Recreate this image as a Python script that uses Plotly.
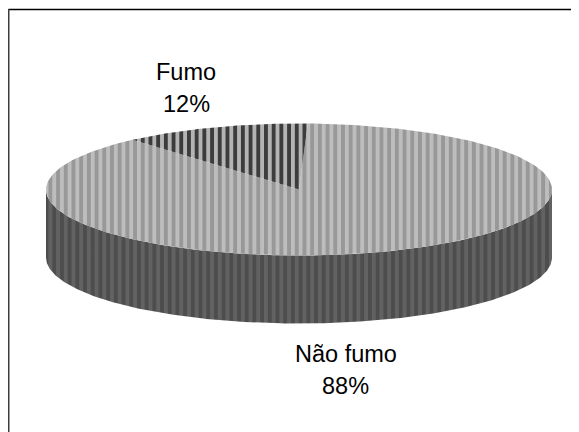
import numpy as np
import plotly.graph_objects as go

categories = ["Não fumo", "Fumo"]
values = [88, 12]
label_centers = [(345.5, 354, 386), (186, 71.5, 103.5)]
top_bg = ["#bdbdbd", "#b4b4b4"]
top_fg = ["#989898", "#3c3c3c"]

PAGE_MARGIN = 8  # the browser's default body margin
W, H = 579, 432
CX, CY, RX, RY, DEPTH = 299.0, 189.5, 253.0, 66.0, 68.0
START = 2.0  # degrees clockwise from the top
STRIPE = 7.7


def rim(a0, a1, n=240):
    t = np.radians(np.linspace(a0, a1, n))
    return CX + RX * np.sin(t), CY - RY * np.cos(t)


fig = go.Figure()

# Visible wall of the disc (front half of the rim, shifted down by the depth)
fx, fy = rim(90, 270)
fig.add_trace(go.Scatter(
    x=np.r_[fx, fx[::-1]], y=np.r_[fy, fy[::-1] + DEPTH],
    mode="lines", fill="toself", line=dict(width=0, color="#555555"),
    fillcolor="#4f4f4f",
    fillpattern=dict(shape="|", size=STRIPE, solidity=0.5, bgcolor="#4d4d4d",
                     fgcolor="#626262", fgopacity=1),
    hoverinfo="skip", showlegend=False,
))

# Top face slices, sized from the values
angle = START
for cat, val, bg, fg in zip(categories, values, top_bg, top_fg):
    sweep = 360.0 * val / sum(values)
    sx, sy = rim(angle, angle + sweep)
    fig.add_trace(go.Scatter(
        x=np.r_[CX, sx, CX], y=np.r_[CY, sy, CY],
        mode="lines", fill="toself", line=dict(width=0, color=bg),
        fillcolor=bg,
        fillpattern=dict(shape="|", size=STRIPE, solidity=0.5, bgcolor=bg,
                         fgcolor=fg, fgopacity=1),
        name=cat, hoverinfo="skip", showlegend=False,
    ))
    angle += sweep

annotations = []
for cat, val, (lx, ly1, ly2) in zip(categories, values, label_centers):
    for text, ly in ((cat, ly1), (f"{val}%", ly2)):
        annotations.append(dict(
            x=lx, y=ly, xref="x", yref="y", text=text, showarrow=False,
            xanchor="center", yanchor="middle",
            font=dict(family="Liberation Sans", size=23.5, color="#000000"),
        ))

fig.update_layout(
    width=W - PAGE_MARGIN, height=H - PAGE_MARGIN, autosize=False,
    margin=dict(l=0, r=0, t=0, b=0),
    paper_bgcolor="#ffffff", plot_bgcolor="#ffffff",
    xaxis=dict(range=[PAGE_MARGIN, W], visible=False, fixedrange=True),
    yaxis=dict(range=[H, PAGE_MARGIN], visible=False, fixedrange=True),
    annotations=annotations,
    shapes=[
        dict(type="line", xref="x", yref="y", x0=8.5, x1=W, y0=9.5, y1=9.5,
             line=dict(color="#000000", width=1.5), layer="below"),
        dict(type="line", xref="x", yref="y", x0=8.5, x1=8.5, y0=9, y1=H,
             line=dict(color="#3c3c3c", width=2), layer="below"),
    ],
)

fig.write_html("out.html", config=dict(displayModeBar=False))
